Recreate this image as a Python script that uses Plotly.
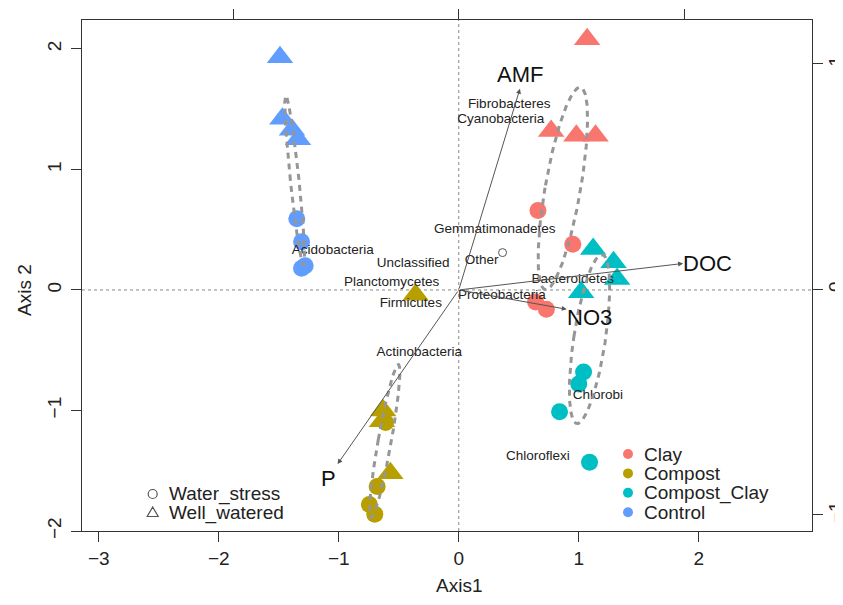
import numpy as np
import plotly.graph_objects as go

# ---------------- data ----------------
groups = ["Clay", "Compost", "Compost_Clay", "Control"]
group_colors = ["#F8766D", "#B79F00", "#00BFC4", "#619CFF"]
water_levels = ["Water_stress", "Well_watered"]

# site scores (Axis1, Axis2): water-stress (circles) and well-watered (triangles)
clay_ws_x = [0.66, 0.95, 0.64, 0.73]
clay_ws_y = [0.66, 0.38, -0.10, -0.16]
clay_ww_x = [1.07, 0.77, 0.98, 1.14]
clay_ww_y = [2.08, 1.32, 1.28, 1.28]

compost_ws_x = [-0.68, -0.745, -0.70, -0.61]
compost_ws_y = [-1.63, -1.78, -1.86, -1.10]
compost_ww_x = [-0.36, -0.63, -0.64, -0.57]
compost_ww_y = [-0.04, -1.00, -1.09, -1.52]

cc_ws_x = [1.04, 1.00, 0.84, 1.09]
cc_ws_y = [-0.68, -0.78, -1.01, -1.43]
cc_ww_x = [1.12, 1.29, 1.32, 1.02]
cc_ww_y = [0.34, 0.23, 0.09, -0.02]

control_ws_x = [-1.35, -1.31, -1.28, -1.31]
control_ws_y = [0.59, 0.40, 0.20, 0.18]
control_ww_x = [-1.49, -1.47, -1.39, -1.34]
control_ww_y = [1.93, 1.42, 1.33, 1.25]

# phylum (species) labels
phyla = ["Fibrobacteres", "Cyanobacteria", "Gemmatimonadetes", "Other", "Acidobacteria",
         "Unclassified", "Planctomycetes", "Firmicutes", "Bacteroidetes", "Proteobacteria",
         "Actinobacteria", "Chlorobi", "Chloroflexi"]
phyla_x = [0.42, 0.35, 0.30, 0.19, -1.05, -0.38, -0.56, -0.40, 0.95, 0.36, -0.33, 1.16, 0.66]
phyla_y = [1.535, 1.41, 0.50, 0.24, 0.33, 0.22, 0.06, -0.11, 0.085, -0.05, -0.52, -0.88, -1.385]
other_point_x = [0.365]
other_point_y = [0.31]

# environmental vectors
env_names = ["AMF", "DOC", "NO3", "P"]
env_x = [0.51, 1.87, 0.90, -1.01]
env_y = [1.67, 0.22, -0.16, -1.445]

x_ticks = [-3, -2, -1, 0, 1, 2]
y_ticks = [-2, -1, 0, 1, 2]
sec_ticks = [-1, 0, 1]

ws_x = [clay_ws_x, compost_ws_x, cc_ws_x, control_ws_x]
ws_y = [clay_ws_y, compost_ws_y, cc_ws_y, control_ws_y]
ww_x = [clay_ww_x, compost_ww_x, cc_ww_x, control_ww_x]
ww_y = [clay_ww_y, compost_ww_y, cc_ww_y, control_ww_y]

# ---------------- layout geometry ----------------
# the page puts the figure at an 8px body offset; compensate so the plot box lands
# at x 82..812, y 20..531 of the window
OFF = 8
W, H = 843, 605
PW, PH = 730, 511
L, T = 82 - OFF, 20 - OFF
R, B = W - L - PW, H - T - PH
FONT = "Liberation Sans, Arial, sans-serif"
XR = [-3.14, 2.944]
YR = [-2.0, 2.24]


def px_x(px):
    return (px - OFF - L) / PW


def px_y(py):
    return (T + PH - (py - OFF)) / PH


fig = go.Figure()

# points
for i, g in enumerate(groups):
    fig.add_trace(go.Scatter(x=ws_x[i], y=ws_y[i], mode="markers", name=g,
                             marker=dict(symbol="circle", size=17, color=group_colors[i],
                                         line=dict(width=0)),
                             showlegend=False))
    fig.add_trace(go.Scatter(x=ww_x[i], y=ww_y[i], mode="markers", name=g,
                             marker=dict(symbol="triangle-up", size=23, color=group_colors[i],
                                         line=dict(width=0)),
                             showlegend=False))

# phylum labels
fig.add_trace(go.Scatter(x=other_point_x, y=other_point_y, mode="markers",
                         marker=dict(symbol="circle-open", size=8, color="#555",
                                     line=dict(width=1)), showlegend=False))
fig.add_trace(go.Scatter(x=phyla_x, y=phyla_y, mode="text", text=phyla,
                         textposition="middle center",
                         textfont=dict(family=FONT, size=13.5, color="#222"),
                         showlegend=False))

# standard-error ellipses (99%) of group centroids
chi = np.sqrt(-2 * np.log(0.01))
t = np.linspace(0, 2 * np.pi, 200)
for i, g in enumerate(groups):
    xs = np.array(ws_x[i] + ww_x[i])
    ys = np.array(ws_y[i] + ww_y[i])
    cov = np.cov(np.vstack([xs, ys])) / len(xs)
    vals, vecs = np.linalg.eigh(cov)
    circ = np.vstack([np.cos(t), np.sin(t)]) * (np.sqrt(vals)[:, None] * chi)
    ell = vecs @ circ
    fig.add_trace(go.Scatter(x=xs.mean() + ell[0], y=ys.mean() + ell[1], mode="lines",
                             line=dict(color="rgb(150,150,150)", width=3, dash="6px,5px"),
                             showlegend=False, hoverinfo="skip"))

# secondary axes anchor trace
fig.add_trace(go.Scatter(x=[None], y=[None], xaxis="x2", yaxis="y2", showlegend=False))

annotations = []
# env arrows
for n, ex, ey in zip(env_names, env_x, env_y):
    annotations.append(dict(x=ex, y=ey, ax=0, ay=0, xref="x", yref="y", axref="x", ayref="y",
                            text="", showarrow=True, arrowhead=2, arrowsize=1.0,
                            arrowwidth=1, arrowcolor="#555"))
anchors = {"AMF": ("center", "bottom", 0, 0),
           "DOC": ("left", "middle", -2, 0),
           "NO3": ("left", "top", -2, 6),
           "P": ("right", "top", 0, 0)}
for n, ex, ey in zip(env_names, env_x, env_y):
    xa, ya, xs_, ys_ = anchors[n]
    annotations.append(dict(x=ex, y=ey, xref="x", yref="y", text=n, showarrow=False,
                            xanchor=xa, yanchor=ya, xshift=xs_, yshift=ys_,
                            font=dict(family=FONT, size=22, color="#111")))

# axis titles
annotations.append(dict(x=px_x(458.7), y=px_y(585), xref="paper", yref="paper", text="Axis1",
                        showarrow=False, xanchor="center", yanchor="middle",
                        font=dict(family=FONT, size=19, color="#222")))
annotations.append(dict(x=px_x(24), y=px_y(290), xref="paper", yref="paper", text="Axis 2",
                        showarrow=False, xanchor="center", yanchor="middle", textangle=-90,
                        font=dict(family=FONT, size=19, color="#222")))

shapes = []
# dotted zero lines
shapes.append(dict(type="line", xref="x", yref="paper", x0=0, x1=0, y0=0, y1=1,
                   line=dict(color="#888", width=1, dash="dot"), layer="below"))
shapes.append(dict(type="line", xref="paper", yref="y", x0=0, x1=1, y0=0, y1=0,
                   line=dict(color="#888", width=1, dash="dot"), layer="below"))

# group legend (bottom right)
for i, g in enumerate(groups):
    cy = 454 + i * 19.4
    shapes.append(dict(type="circle", xref="paper", yref="paper",
                       xsizemode="pixel", ysizemode="pixel",
                       xanchor=px_x(628), yanchor=px_y(cy), x0=-5, x1=5, y0=-5, y1=5,
                       fillcolor=group_colors[i], line=dict(width=0)))
    annotations.append(dict(x=px_x(642), y=px_y(cy), xref="paper", yref="paper", text=g,
                            showarrow=False, xanchor="left", yanchor="middle",
                            font=dict(family=FONT, size=19, color="#222")))

# water legend (bottom left)
wl_y = [494, 512.5]
shapes.append(dict(type="circle", xref="paper", yref="paper",
                   xsizemode="pixel", ysizemode="pixel",
                   xanchor=px_x(152.7), yanchor=px_y(wl_y[0]), x0=-4.5, x1=4.5, y0=-4.5, y1=4.5,
                   line=dict(width=1.2, color="#555")))
shapes.append(dict(type="path", xref="paper", yref="paper",
                   xsizemode="pixel", ysizemode="pixel",
                   xanchor=px_x(152.7), yanchor=px_y(wl_y[1]),
                   path="M -5.5,-4 L 5.5,-4 L 0,5.5 Z",
                   line=dict(width=1.2, color="#555")))
for lab, cy in zip(water_levels, wl_y):
    annotations.append(dict(x=px_x(167), y=px_y(cy), xref="paper", yref="paper", text=lab,
                            showarrow=False, xanchor="left", yanchor="middle",
                            font=dict(family=FONT, size=19, color="#222")))

axis_common = dict(showgrid=False, zeroline=False, ticks="outside", ticklen=10,
                   tickcolor="#333", tickwidth=1, automargin=False,
                   tickfont=dict(family=FONT, size=19, color="#222"))

fig.update_layout(
    width=W, height=H,
    margin=dict(l=L, r=R, t=T, b=B, pad=0, autoexpand=False),
    paper_bgcolor="white", plot_bgcolor="white",
    showlegend=False,
    xaxis=dict(range=XR, tickvals=x_ticks, showline=True, linecolor="#333", linewidth=1,
               mirror=True, ticklabelstandoff=0, **axis_common),
    yaxis=dict(range=YR, tickvals=y_ticks, showline=True, linecolor="#333", linewidth=1,
               mirror=True, tickangle=-90, ticklabelstandoff=2, **axis_common),
    xaxis2=dict(range=[-1.670, 1.567], tickvals=sec_ticks, overlaying="x", side="top",
                showticklabels=False, showline=False, **axis_common),
    yaxis2=dict(range=[-1.071, 1.195], tickvals=sec_ticks, overlaying="y", side="right",
                showline=False, tickangle=-90, ticklabelstandoff=-4, **axis_common),
    annotations=annotations,
    shapes=shapes,
)

fig.write_html("out.html")
